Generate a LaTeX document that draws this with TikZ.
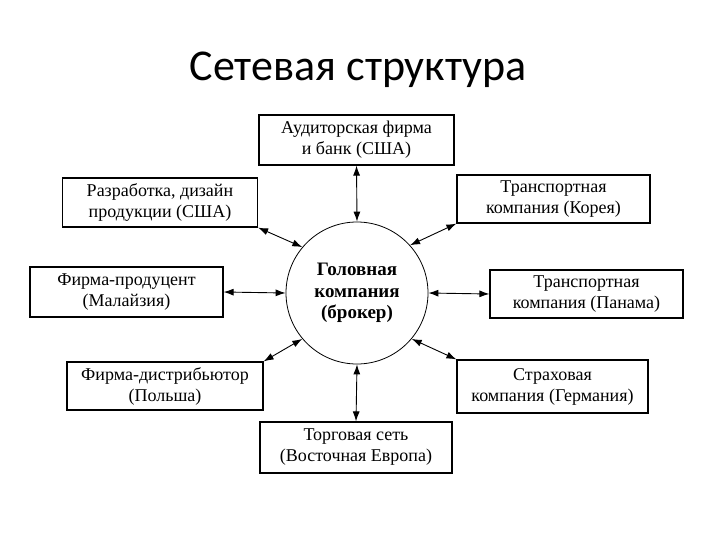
\documentclass[tikz,border=0pt]{standalone}
\usepackage{fontspec}
\setmainfont{Liberation Serif}
\newfontfamily\titlefont{Carlito}
\usetikzlibrary{arrows.meta}
\begin{document}
\begin{tikzpicture}[x=1pt,y=-1pt,
  boxnode/.style={draw, line width=1.2pt, inner sep=0pt, align=center,
    font=\fontsize{18}{21}\selectfont},
  link/.style={{Latex[length=10pt,width=7pt]}-{Latex[length=10pt,width=7pt]}, line width=0.9pt}]
\useasboundingbox (0,0) rectangle (720,540);
\node[font=\titlefont\fontsize{44}{52}\selectfont] (title) at (358,70) {Сетевая структура};
\node[draw, circle, line width=0.8pt, minimum size=142pt, inner sep=0pt, align=center,
  font=\bfseries\fontsize{19}{21.5}\selectfont] (c) at (357,293) {Головная\\компания\\(брокер)};
\node[boxnode, minimum width=195pt, minimum height=50pt] (top) at (356.5,140) {Аудиторская фирма\\и банк (США)};
\node[boxnode, minimum width=195pt, minimum height=49pt] (ul) at (160,202.5) {Разработка, дизайн\\продукции (США)};
\node[boxnode, minimum width=193pt, minimum height=48pt] (ur) at (553.5,199) {Транспортная\\компания (Корея)};
\node[boxnode, minimum width=193pt, minimum height=50pt] (ml) at (126.5,292) {Фирма-продуцент\\(Малайзия)};
\node[boxnode, minimum width=193pt, minimum height=48pt] (mr) at (586.5,294) {Транспортная\\компания (Панама)};
\node[boxnode, minimum width=196pt, minimum height=48pt] (ll) at (165,386) {Фирма-дистрибьютор\\(Польша)};
\node[boxnode, minimum width=191pt, minimum height=53pt] (lr) at (552.5,386.5) {Страховая\\компания (Германия)};
\node[boxnode, minimum width=192pt, minimum height=51pt] (bot) at (356,447.5) {Торговая сеть\\(Восточная Европа)};
\draw[link] (top.south) -- (c.north);
\draw[link] (bot.north) -- (c.south);
\draw[link] (ml.east) -- (c.west);
\draw[link] (mr.west) -- (c.east);
\draw[link] (ul.south east) -- (c.140);
\draw[link] (ur.south west) -- (c.42);
\draw[link] (ll.north east) -- (c.220);
\draw[link] (lr.north west) -- (c.320);
\end{tikzpicture}
\end{document}
